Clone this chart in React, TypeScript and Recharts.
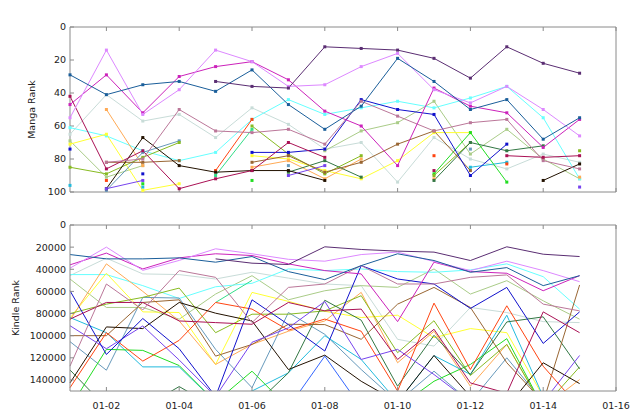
import React from 'react';
import { LineChart, Line, XAxis, YAxis } from 'recharts';

type V = number | null;

const DAYS = [1, 2, 3, 4, 5, 6, 7, 8, 9, 10, 11, 12, 13, 14, 15];
const X_TICKS = [2, 4, 6, 8, 10, 12, 14, 16];
const X_TICK_LABELS = ['01-02', '01-04', '01-06', '01-08', '01-10', '01-12', '01-14', '01-16'];
const MANGA_TICKS = [0, 20, 40, 60, 80, 100];
const KINDLE_TICKS = [0, 20000, 40000, 60000, 80000, 100000, 120000, 140000];

// ---- Manga rank (top panel) ----
const mangaDarkPurple: V[] = [null, null, null, null, 33, 36, 37, 12, 13, 14, 19, 31, 12, 22, 28];
const mangaViolet: V[] = [55, 14, 53, 38, 14, 21, 36, 35, 24, 16, 38, 46, 36, 50, 66];
const mangaMagenta: V[] = [47, 29, 52, 30, 24, 21, 32, 51, 60, 84, 37, 48, 52, 73, 56];
const mangaSteelBlue: V[] = [29, 41, 35, 33, 39, 26, 47, 62, 48, 19, 33, 50, 44, 68, 55];
const mangaCyan: V[] = [61, 66, 75, 81, 76, 56, 44, 53, 49, 45, 49, 43, 36, 55, 92];
const mangaLightGray: V[] = [65, 41, 57, 53, 67, 49, 59, 74, 70, 94, 67, 80, 86, 77, 82];
const mangaMauve: V[] = [null, 82, 80, 50, 63, 64, 62, 71, 45, 54, 63, 58, 56, 81, 86];
const mangaYellow: V[] = [71, 65, 99, 95, null, 78, 80, 87, 92, 81, 64, 64, null, null, null];
const mangaCrimson: V[] = [42, 86, 75, 98, 92, 87, 70, 79, null, null, 87, null, 78, 79, 78];
const mangaBlack: V[] = [null, 98, 67, 84, 88, 87, 87, 93, null, null, null, null, null, 93, 83];
const mangaOrange: V[] = [null, 50, 84, null, null, 85, 81, 92, 80, null, 92, null, null, null, 91];
const mangaRed: V[] = [null, 93, null, null, 87, 56, null, null, null, null, 78, null, 83, null, null];
const mangaYellowGreen: V[] = [85, 89, 79, 70, null, 60, 77, 89, 78, null, 90, 70, null, null, 75];
const mangaSage: V[] = [69, 91, 84, null, null, null, null, 75, 63, 58, 45, 77, 62, 80, 92];
const mangaBrown: V[] = [null, 82, 82, 81, null, 82, 78, 88, 82, 71, 63, 87, null, null, null];
const mangaDarkGreen: V[] = [null, null, null, null, null, null, 88, 81, 91, null, 93, 70, 75, 72, null];
const mangaGreen: V[] = [null, null, 95, null, null, 93, null, null, null, null, 89, 64, 94, null, null];
const mangaBlue: V[] = [74, null, 89, null, null, 76, 76, 74, 44, 50, 53, 90, 71, null, null];
const mangaBluePurple: V[] = [null, 98, 93, null, null, null, 90, 84, null, null, null, null, null, null, 97];
const mangaLightSteelBlue: V[] = [null, 99, 76, 69, null, null, 84, null, null, null, null, 74, null, null, null];
const mangaDeepSkyBlue: V[] = [96, null, 97, null, null, null, null, null, null, null, null, 85, 82, null, null];
const mangaMint: V[] = [null, null, null, null, 90, 62, null, null, null, null, null, null, null, null, null];
const mangaRoyalBlue: V[] = [null, null, null, null, null, null, null, null, null, null, null, null, null, null, null];

// ---- Kindle rank (bottom panel) ----
const kindleDarkPurple: V[] = [null, null, null, null, 30600, 34500, 35700, 19700, 22100, 23600, 24500, 32100, 19700, 26400, 28500];
const kindleViolet: V[] = [39000, 20000, 41000, 32000, 21500, 26000, 31000, 32700, 26700, 24500, 33000, 41200, 32700, 41200, 51200];
const kindleMagenta: V[] = [36000, 25400, 39700, 29700, 26000, 27600, 35100, 41200, 44200, 87300, 33600, 42100, 43600, 59400, 45800];
const kindleSteelBlue: V[] = [26700, 30600, 30600, 29700, 33600, 28500, 42100, 49400, 36700, 26000, 32100, 42700, 38500, 54800, 45800];
const kindleCyan: V[] = [44800, 44800, 54800, 66400, 55800, 52700, 39700, 41200, 39700, 42100, 42700, 40600, 35100, 46700, 76000];
const kindleLightGray: V[] = [45700, 30000, 44200, 44800, 48800, 42700, 48000, 53300, 54800, 103300, 109400, 74500, 79100, 87300, 88200];
const kindleMauve: V[] = [127500, 53300, 76700, 41200, 47300, 88200, 56400, 53300, 36700, 53300, 53300, 47300, 45100, 71500, 77600];
const kindleYellow: V[] = [84000, 43600, 78500, 79100, 126000, 60900, 69000, 78000, 83600, 81500, 101800, 93600, 97300, 155000, 165000];
const kindleCrimson: V[] = [85000, 70000, 70000, 86700, 88200, 89700, 70000, 77600, 76000, 121500, 94200, 142700, 152000, 78500, 97300];
const kindleBlack: V[] = [142700, 92100, 93600, 70000, 79700, 86700, 130600, 117600, 141200, 160000, 117900, 155000, 165000, 124500, 143300];
const kindleOrange: V[] = [86000, 35100, 60000, 86700, 126000, 107900, 96000, 86700, 60900, 124500, 96000, 145700, 107900, 165000, 139700];
const kindleRed: V[] = [147000, 97300, 123000, 104200, 70000, 76000, 95000, 85000, 96000, 150000, 70600, 130600, 73000, 127600, 165000];
const kindleYellowGreen: V[] = [80000, 71500, 65400, 57000, 97300, 80600, 80600, 77600, 63900, 115400, 86500, 136000, 107900, 165000, 128200];
const kindleSage: V[] = [48800, 74500, 74500, 85100, 62400, 45800, 67600, 59400, 54800, 56400, 39700, 62400, 50300, 68500, 85100];
const kindleBrown: V[] = [100000, 100000, 70000, 67600, 118500, 107900, 89700, 90000, 103300, 71500, 56400, 74500, 124500, 160000, 54200];
const kindleDarkGreen: V[] = [131000, 165000, 165000, 146000, 165000, 165000, 133600, 68000, 86000, 145700, 99700, 135100, 87600, 83000, 130000];
const kindleGreen: V[] = [165000, 112400, 113300, 127000, 160000, 132100, 165000, 165000, 165000, 165000, 141200, 126000, 102700, 165000, 165000];
const kindleBlue: V[] = [59400, 117000, 84500, 111800, 155000, 67600, 90000, 113900, 36700, 48800, 53300, 75400, 56400, 107000, 78500];
const kindleBluePurple: V[] = [91000, 111800, 91200, 122000, 155000, 106000, 93000, 69100, 121500, 112400, 135100, 160000, 160000, 160000, 117900];
const kindleLightSteelBlue: V[] = [105400, 131200, 65400, 66000, 112400, 147000, 79100, 98800, 130600, 160000, 132100, 160000, 120000, 160000, 160000];
const kindleDeepSkyBlue: V[] = [83600, 97300, 128200, 128200, 160000, 150000, 133600, 100000, 121500, 160000, 118000, 135000, 81500, 155000, 165000];
const kindleMint: V[] = [null, null, null, null, 70000, 50000, null, null, null, null, null, null, null, null, null];
const kindleRoyalBlue: V[] = [null, null, null, null, null, null, 165000, 118500, 165000, null, null, null, null, null, null];

const SERIES = [
  { id: 'lightGray', color: '#c8dcd8', manga: mangaLightGray, kindle: kindleLightGray },
  { id: 'sage', color: '#aacc88', manga: mangaSage, kindle: kindleSage },
  { id: 'cyan', color: '#66ffff', manga: mangaCyan, kindle: kindleCyan },
  { id: 'yellow', color: '#ffff33', manga: mangaYellow, kindle: kindleYellow },
  { id: 'mint', color: '#33dd88', manga: mangaMint, kindle: kindleMint },
  { id: 'orange', color: '#ffaa55', manga: mangaOrange, kindle: kindleOrange },
  { id: 'lightSteelBlue', color: '#6699bb', manga: mangaLightSteelBlue, kindle: kindleLightSteelBlue },
  { id: 'deepSkyBlue', color: '#22bbdd', manga: mangaDeepSkyBlue, kindle: kindleDeepSkyBlue },
  { id: 'green', color: '#22dd22', manga: mangaGreen, kindle: kindleGreen },
  { id: 'yellowGreen', color: '#88bb22', manga: mangaYellowGreen, kindle: kindleYellowGreen },
  { id: 'darkGreen', color: '#337744', manga: mangaDarkGreen, kindle: kindleDarkGreen },
  { id: 'brown', color: '#996633', manga: mangaBrown, kindle: kindleBrown },
  { id: 'red', color: '#ff4411', manga: mangaRed, kindle: kindleRed },
  { id: 'black', color: '#221100', manga: mangaBlack, kindle: kindleBlack },
  { id: 'royalBlue', color: '#3366ff', manga: mangaRoyalBlue, kindle: kindleRoyalBlue },
  { id: 'bluePurple', color: '#7744ee', manga: mangaBluePurple, kindle: kindleBluePurple },
  { id: 'blue', color: '#1111cc', manga: mangaBlue, kindle: kindleBlue },
  { id: 'crimson', color: '#aa1155', manga: mangaCrimson, kindle: kindleCrimson },
  { id: 'mauve', color: '#bb7799', manga: mangaMauve, kindle: kindleMauve },
  { id: 'magenta', color: '#cc22bb', manga: mangaMagenta, kindle: kindleMagenta },
  { id: 'violet', color: '#dd88ff', manga: mangaViolet, kindle: kindleViolet },
  { id: 'steelBlue', color: '#1a5e9a', manga: mangaSteelBlue, kindle: kindleSteelBlue },
  { id: 'darkPurple', color: '#5a2d72', manga: mangaDarkPurple, kindle: kindleDarkPurple },
];

function buildRows(key: 'manga' | 'kindle') {
  return DAYS.map((d, i) => {
    const row: Record<string, number | null> = { day: d };
    SERIES.forEach((s) => {
      row[s.id] = s[key][i];
    });
    return row;
  });
}

const mangaRows = buildRows('manga');
const kindleRows = buildRows('kindle');

const FRAME = '#8a8a8a';
const FONT = 'DejaVu Sans, sans-serif';
const TICK_STYLE = { fontSize: 9.5, fill: '#222', fontFamily: FONT };

const fmtX = (v: number) => {
  const idx = X_TICKS.indexOf(v);
  return idx >= 0 ? X_TICK_LABELS[idx] : '';
};
const blank = () => '';

const SquareDot = (props: any) => {
  const { cx, cy, stroke, value, index } = props;
  if (cx == null || cy == null || value == null || Number.isNaN(cx) || Number.isNaN(cy)) {
    return <g key={`e${index}`} />;
  }
  return <rect key={`d${index}`} x={cx - 1.5} y={cy - 1.5} width={3} height={3} fill={stroke} />;
};

export default function App() {
  return (
    <div style={{ position: 'absolute', left: 0, top: 0, width: 640, height: 417, background: '#fff', fontFamily: FONT }}>
      <div style={{ position: 'absolute', left: 0, top: 0 }}>
        <LineChart width={640} height={200} data={mangaRows} margin={{ top: 26, right: 23, bottom: 7, left: 0 }}>
          <XAxis
            dataKey="day"
            type="number"
            domain={[1, 16]}
            ticks={X_TICKS}
            interval={0}
            height={1}
            tickSize={-4}
            tickFormatter={blank}
            axisLine={{ stroke: FRAME }}
            tickLine={{ stroke: FRAME }}
          />
          <XAxis
            xAxisId="top"
            orientation="top"
            dataKey="day"
            type="number"
            domain={[1, 16]}
            ticks={X_TICKS}
            interval={0}
            height={1}
            tickSize={-4}
            tickFormatter={blank}
            axisLine={{ stroke: FRAME }}
            tickLine={{ stroke: FRAME }}
          />
          <YAxis
            type="number"
            domain={[0, 100]}
            reversed
            ticks={MANGA_TICKS}
            interval={0}
            width={70}
            tickSize={-4}
            tickMargin={8}
            tick={TICK_STYLE}
            axisLine={{ stroke: FRAME }}
            tickLine={{ stroke: FRAME }}
          />
          <YAxis
            yAxisId="right"
            orientation="right"
            type="number"
            domain={[0, 100]}
            reversed
            ticks={MANGA_TICKS}
            interval={0}
            width={1}
            tickSize={-4}
            tickFormatter={blank}
            axisLine={{ stroke: FRAME }}
            tickLine={{ stroke: FRAME }}
          />
          {SERIES.map((s) => (
            <Line
              key={s.id}
              dataKey={s.id}
              stroke={s.color}
              strokeWidth={1}
              dot={SquareDot}
              activeDot={false}
              isAnimationActive={false}
              connectNulls={false}
            />
          ))}
        </LineChart>
      </div>
      <div style={{ position: 'absolute', left: 0, top: 200 }}>
        <LineChart width={640} height={217} data={kindleRows} margin={{ top: 24, right: 23, bottom: 0, left: 0 }}>
          <XAxis
            dataKey="day"
            type="number"
            domain={[1, 16]}
            ticks={X_TICKS}
            interval={0}
            height={26}
            tickSize={-4}
            tickMargin={15.5}
            tickFormatter={fmtX}
            tick={TICK_STYLE}
            axisLine={{ stroke: FRAME }}
            tickLine={{ stroke: FRAME }}
          />
          <XAxis
            xAxisId="top"
            orientation="top"
            dataKey="day"
            type="number"
            domain={[1, 16]}
            ticks={X_TICKS}
            interval={0}
            height={1}
            tickSize={-4}
            tickFormatter={blank}
            axisLine={{ stroke: FRAME }}
            tickLine={{ stroke: FRAME }}
          />
          <YAxis
            type="number"
            domain={[0, 150000]}
            reversed
            allowDataOverflow
            ticks={KINDLE_TICKS}
            interval={0}
            width={70}
            tickSize={-4}
            tickMargin={8}
            tick={TICK_STYLE}
            axisLine={{ stroke: FRAME }}
            tickLine={{ stroke: FRAME }}
          />
          <YAxis
            yAxisId="right"
            orientation="right"
            type="number"
            domain={[0, 150000]}
            reversed
            ticks={KINDLE_TICKS}
            interval={0}
            width={1}
            tickSize={-4}
            tickFormatter={blank}
            axisLine={{ stroke: FRAME }}
            tickLine={{ stroke: FRAME }}
          />
          {SERIES.map((s) => (
            <Line
              key={s.id}
              dataKey={s.id}
              stroke={s.color}
              strokeWidth={1}
              dot={false}
              activeDot={false}
              isAnimationActive={false}
              connectNulls={false}
            />
          ))}
        </LineChart>
      </div>
      <svg width={640} height={417} style={{ position: 'absolute', left: 0, top: 0, pointerEvents: 'none' }}>
        <text
          transform="translate(31,109.5) rotate(-90)"
          textAnchor="middle"
          dominantBaseline="central"
          fontSize={9.5}
          fill="#222"
          fontFamily={FONT}
        >
          Manga Rank
        </text>
        <text
          transform="translate(15,308) rotate(-90)"
          textAnchor="middle"
          dominantBaseline="central"
          fontSize={9.5}
          fill="#222"
          fontFamily={FONT}
        >
          Kindle Rank
        </text>
      </svg>
    </div>
  );
}
